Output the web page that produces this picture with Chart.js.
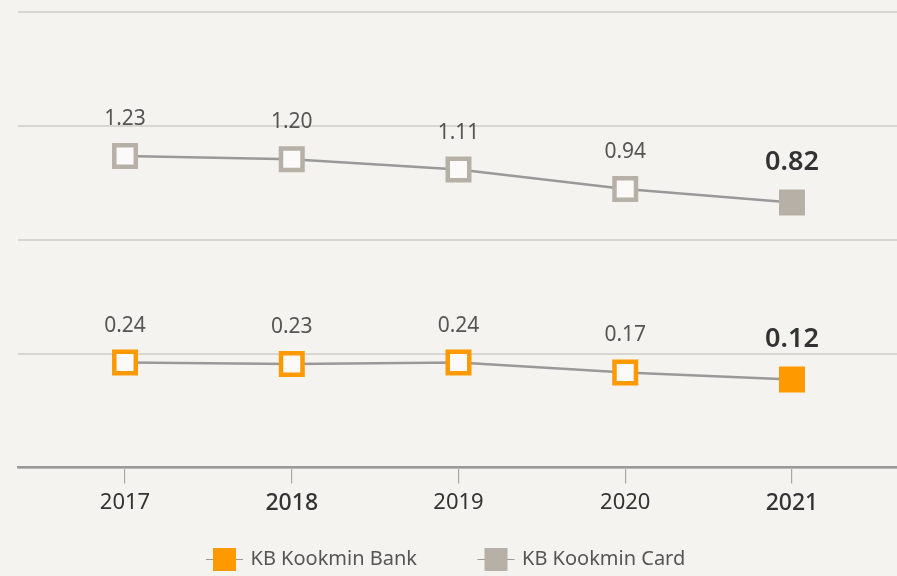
<!DOCTYPE html>
<html>
<head>
<meta charset="utf-8">
<script src="https://cdn.jsdelivr.net/npm/chart.js@4"></script>
<style>
  html, body { margin: 0; padding: 0; background: #f4f3ef; }
  #wrap { width: 897px; height: 576px; position: relative; }
</style>
</head>
<body>
<div id="wrap"><canvas id="chart"></canvas></div>
<script>
const years = [2017, 2018, 2019, 2020, 2021];
const cardValues = [1.23, 1.20, 1.11, 0.94, 0.82];
const bankValues = [0.24, 0.23, 0.24, 0.17, 0.12];
const seriesNames = ["KB Kookmin Bank", "KB Kookmin Card"];
const boldYears = [2018, 2021];

const orange = "#ff9900";
const stone = "#b7b0a6";
const font = "'Noto Sans', 'Open Sans', sans-serif";

function pointsFor(values) {
  return years.map((y, i) => ({ x: y, y: values[i] }));
}

function lastFilled(color) {
  return years.map((y, i) => (i === years.length - 1 ? color : "#fbfaf8"));
}

// value labels above every point, last one bigger and bold
const valueLabels = {
  id: "valueLabels",
  afterDatasetsDraw(chart) {
    const ctx = chart.ctx;
    ctx.save();
    ctx.textAlign = "center";
    ctx.textBaseline = "middle";
    chart.data.datasets.forEach((ds, di) => {
      const meta = chart.getDatasetMeta(di);
      meta.data.forEach((pt, i) => {
        const last = i === ds.data.length - 1;
        ctx.fillStyle = last ? "#333" : "#555";
        ctx.font = last ? `600 27px ${font}` : `21px ${font}`;
        ctx.fillText(ds.data[i].y.toFixed(2), pt.x, pt.y - (last ? 40 : 37));
      });
    });
    ctx.restore();
  }
};

// legend at the bottom: line through a square, then the name
const bottomLegend = {
  id: "bottomLegend",
  afterDraw(chart) {
    const ctx = chart.ctx;
    const spots = [224.5, 496];
    ctx.save();
    chart.data.datasets.forEach((ds, di) => {
      const cx = spots[di];
      const cy = 559.5;
      ctx.strokeStyle = "#999";
      ctx.lineWidth = 1.2;
      ctx.beginPath();
      ctx.moveTo(cx - 18.5, cy);
      ctx.lineTo(cx + 18.5, cy);
      ctx.stroke();
      ctx.fillStyle = ds.legendColor;
      ctx.fillRect(cx - 11.5, cy - 11.5, 23, 23);
      ctx.fillStyle = "#555";
      ctx.font = `20px ${font}`;
      ctx.textAlign = "left";
      ctx.textBaseline = "middle";
      ctx.fillText(ds.label, cx + 26, cy);
    });
    ctx.restore();
  }
};

new Chart(document.getElementById("chart"), {
  type: "line",
  data: {
    datasets: [
      {
        label: seriesNames[0],
        data: pointsFor(bankValues),
        yAxisID: "yBank",
        legendColor: orange,
        borderColor: "#999",
        borderWidth: 2.5,
        pointStyle: "rect",
        pointRadius: 15.2,
        pointHoverRadius: 15.2,
        pointBorderWidth: 4.5,
        pointBorderColor: orange,
        pointBackgroundColor: lastFilled(orange)
      },
      {
        label: seriesNames[1],
        data: pointsFor(cardValues),
        yAxisID: "yCard",
        legendColor: stone,
        borderColor: "#999",
        borderWidth: 2.5,
        pointStyle: "rect",
        pointRadius: 15.2,
        pointHoverRadius: 15.2,
        pointBorderWidth: 4.5,
        pointBorderColor: stone,
        pointBackgroundColor: lastFilled(stone)
      }
    ]
  },
  options: {
    responsive: true,
    maintainAspectRatio: false,
    animation: false,
    layout: { autoPadding: false, padding: { top: 12, left: 18, right: 0, bottom: 0 } },
    plugins: {
      legend: { display: false },
      tooltip: { enabled: false }
    },
    scales: {
      x: {
        type: "linear",
        min: 2016.358,
        max: 2021.63,
        afterFit: s => { s.height = 108.5; },
        border: { display: true, color: "#999", width: 2.5 },
        grid: {
          drawOnChartArea: false,
          drawTicks: true,
          tickLength: 16,
          color: "#a8a8a8",
          lineWidth: 1.2
        },
        ticks: {
          stepSize: 1,
          includeBounds: false,
          autoSkip: false,
          padding: 6,
          color: "#333",
          callback: v => String(v),
          font: c => boldYears.includes(c.tick && c.tick.value)
            ? { family: font, size: 23, weight: 500 }
            : { family: font, size: 22 }
        }
      },
      y: {
        min: 0,
        max: 4,
        afterFit: s => { s.width = 0; },
        border: { display: false },
        grid: { color: "#d8d6d1", lineWidth: 2, drawTicks: false },
        ticks: { display: false, stepSize: 1 }
      },
      yCard: { display: false, min: -1.51, max: 2.496 },
      yBank: { display: false, min: -0.5, max: 2.712 }
    }
  },
  plugins: [valueLabels, bottomLegend]
});
</script>
</body>
</html>
